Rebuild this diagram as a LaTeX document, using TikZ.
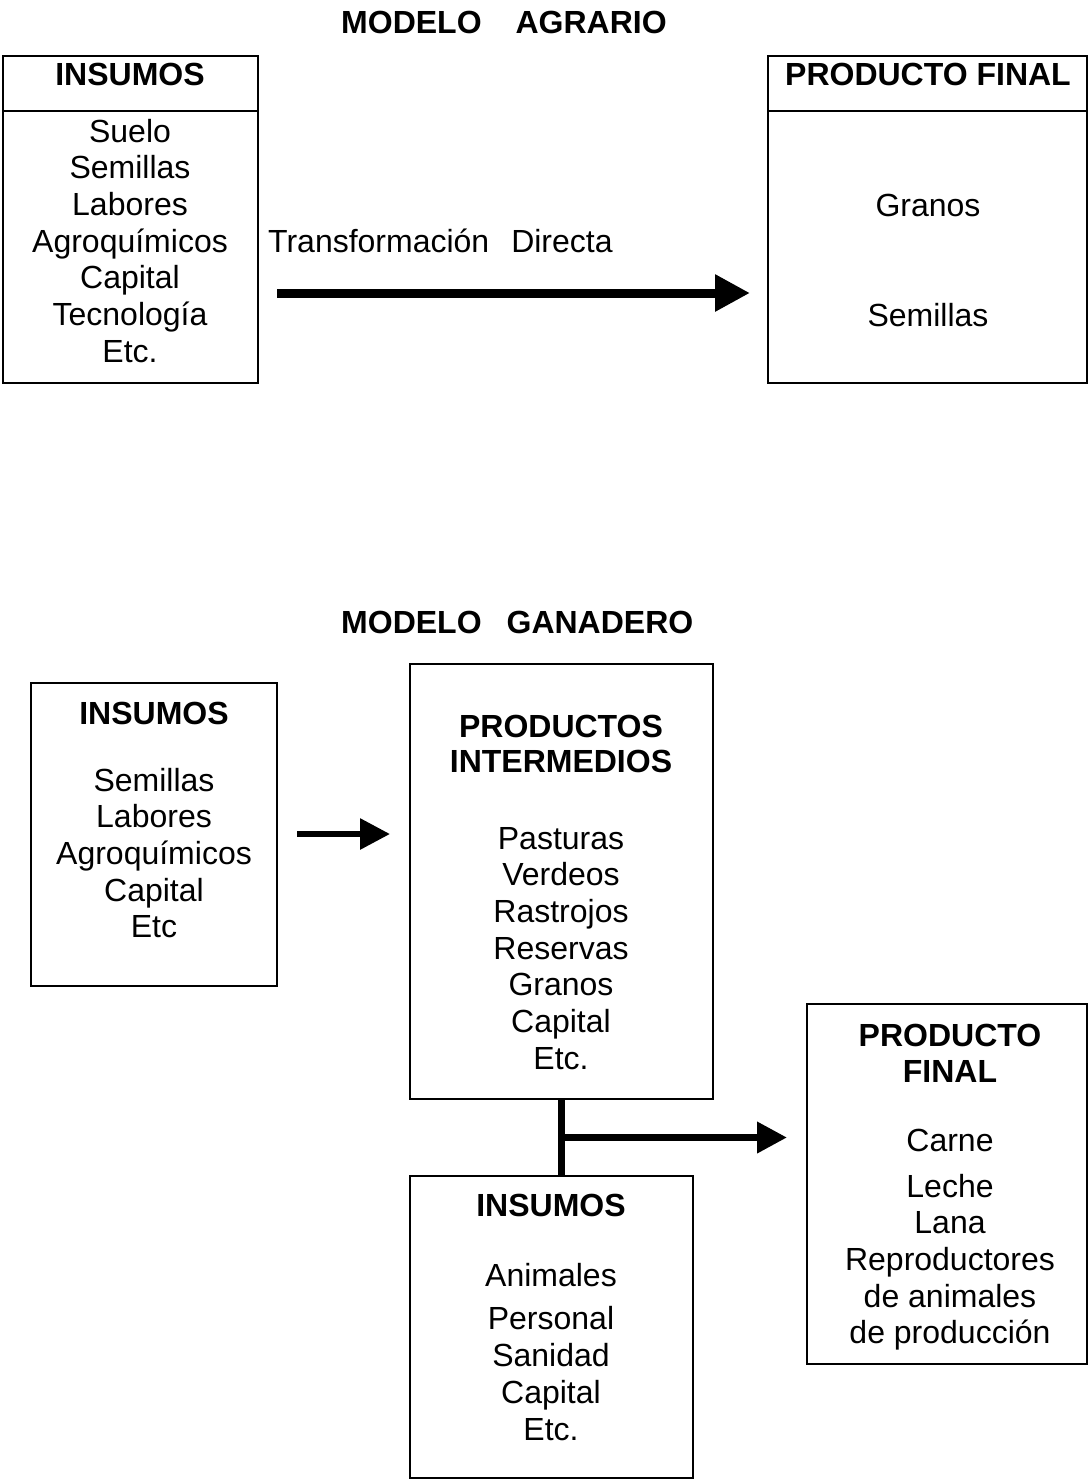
\documentclass[tikz,border=0pt]{standalone}
\usepackage{fontspec}
\setmainfont{Liberation Sans}
\usetikzlibrary{arrows.meta,calc}

\tikzset{
  box/.style={draw, line width=2pt, inner sep=0pt, rectangle},
  txt/.style={inner sep=0pt, anchor=base, font=\fontsize{32}{36}\selectfont},
  hd/.style={txt, font=\fontsize{32}{36}\selectfont\bfseries},
  bigarrow/.style={line width=9pt, -{Triangle[length=35pt,width=35pt]}},
  midarrow/.style={line width=6pt, -{Triangle[length=30pt,width=30pt]}},
  joinline/.style={line width=7pt},
  joinarrow/.style={line width=7pt, -{Triangle[length=30pt,width=30pt]}}
}

\begin{document}
\begin{tikzpicture}[x=1pt,y=-1pt]
\useasboundingbox (0,0) rectangle (1089,1481);

% ---------------- Agrarian model ----------------
\node[hd, anchor=base west] (titleA) at (341,33) {MODELO\hspace{34pt}AGRARIO};

\node[box, minimum width=255pt, minimum height=327pt] (insA) at (130.5,219.5) {};
\draw[line width=2pt] (insA.west |- 0,111) -- (insA.east |- 0,111);
\node[hd] (insAh) at (130,85) {INSUMOS};
\foreach \t [count=\i] in {Suelo,Semillas,Labores,Agroquímicos,Capital,Tecnología,Etc.}
  \node[txt] (insA\i) at (130,{142+(\i-1)*36.7}) {\t};

\node[box, minimum width=319pt, minimum height=327pt] (finA) at (927.5,219.5) {};
\draw[line width=2pt] (finA.west |- 0,111) -- (finA.east |- 0,111);
\node[hd] (finAh) at (928,85) {PRODUCTO FINAL};
\node[txt] (finA1) at (928,216) {Granos};
\node[txt] (finA2) at (928,326) {Semillas};

\node[txt, anchor=base west] (trans) at (268,252) {Transformación\hspace{22pt}Directa};

\coordinate (arrAs) at (277,293);
\coordinate (arrAe) at (750,293);
\draw[bigarrow] (arrAs) -- (arrAe);

% ---------------- Livestock model ----------------
\node[hd, anchor=base west] (titleG) at (341,633) {MODELO\hspace{25pt}GANADERO};

\node[box, minimum width=246pt, minimum height=303pt] (insG) at (154,834.5) {};
\node[hd] (insGh) at (154,724) {INSUMOS};
\foreach \t [count=\i] in {Semillas,Labores,Agroquímicos,Capital,Etc}
  \node[txt] (insG\i) at (154,{791+(\i-1)*36.7}) {\t};

\node[box, minimum width=303pt, minimum height=435pt] (inter) at (561.5,881.5) {};
\node[hd] (interh1) at (561,737) {PRODUCTOS};
\node[hd] (interh2) at (561,772) {INTERMEDIOS};
\foreach \t [count=\i] in {Pasturas,Verdeos,Rastrojos,Reservas,Granos,Capital,Etc.}
  \node[txt] (inter\i) at (561,{849+(\i-1)*36.7}) {\t};

\coordinate (arrGs) at (297,834);
\coordinate (arrGe) at (390,834);
\draw[midarrow] (arrGs) -- (arrGe);

\node[box, minimum width=283pt, minimum height=302pt] (insH) at (551.5,1327) {};
\node[hd] (insHh) at (551,1216) {INSUMOS};
\foreach \t/\y [count=\i] in {Animales/1286,Personal/1329,Sanidad/1366,Capital/1403,Etc./1440}
  \node[txt] (insH\i) at (551,\y) {\t};

\node[box, minimum width=280pt, minimum height=360pt] (finG) at (947,1184) {};
\node[hd] (finGh1) at (950,1046) {PRODUCTO};
\node[hd] (finGh2) at (950,1082) {FINAL};
\foreach \t/\y [count=\i] in {Carne/1151,Leche/1197,Lana/1233,Reproductores/1270,de animales/1307,de producción/1343}
  \node[txt] (finG\i) at (950,\y) {\t};

% junction between intermediate products and animal inputs
\coordinate (junc) at ($(inter.south)!0.5!(inter.south |- insH.north)$);
\draw[joinline] (inter.south) -- (inter.south |- insH.north);
\draw[joinarrow] (junc) -- ($(junc -| finG.west)+(-19,0)$);
\end{tikzpicture}
\end{document}
